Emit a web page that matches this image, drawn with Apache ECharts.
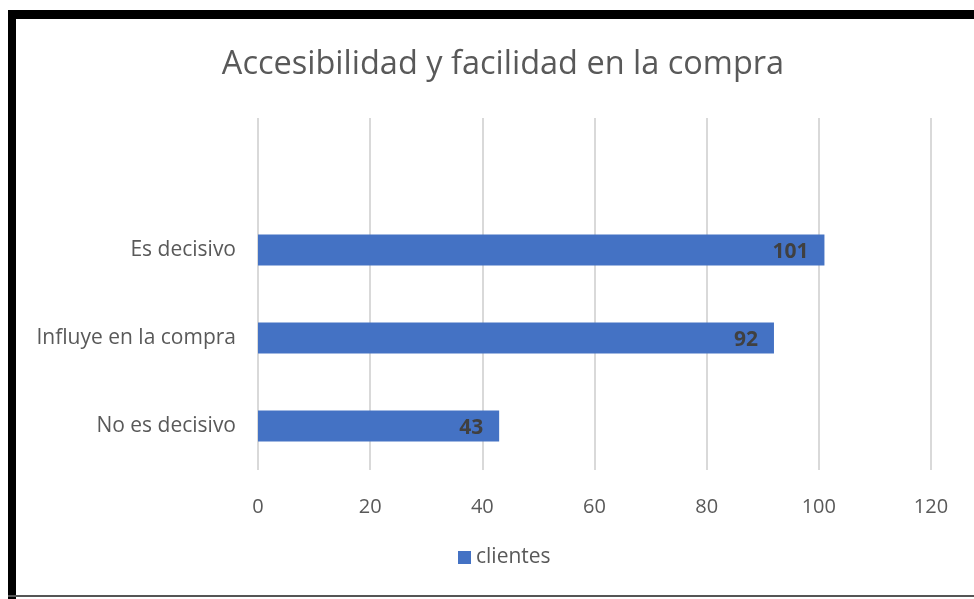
<!DOCTYPE html>
<html><head><meta charset="utf-8">
<script src="https://cdn.jsdelivr.net/npm/echarts@6/dist/echarts.min.js"></script>
<style>
html,body{margin:0;padding:0;background:#fff;}
#c{position:absolute;left:0;top:0;width:974px;height:599px;}
.b{position:absolute;}
</style></head><body>
<div id="c"></div>
<div class="b" style="left:8px;top:10px;width:966px;height:9px;background:#000;"></div>
<div class="b" style="left:8px;top:10px;width:8px;height:589px;background:#000;"></div>
<div class="b" style="left:8px;top:595px;width:966px;height:2px;background:#555;"></div>
<script>
const categories = ['No es decisivo', 'Influye en la compra', 'Es decisivo', ''];
const clientes = [43, 92, 101, null];
const xTicks = [0, 20, 40, 60, 80, 100, 120];

const chart = echarts.init(document.getElementById('c'));
chart.setOption({
  animation: false,
  title: {
    text: 'Accesibilidad y facilidad en la compra',
    left: 498, top: 43, textAlign: 'center',
    textStyle: {fontFamily: 'Open Sans', fontSize: 32.5, fontWeight: 'normal', color: '#595959'}
  },
  legend: {
    data: ['clientes'], bottom: 26, left: 453,
    icon: 'rect', itemWidth: 13, itemHeight: 13, itemGap: 5,
    textStyle: {fontFamily: 'Open Sans', fontSize: 21, color: '#595959'}
  },
  grid: {left: 258, right: 43, top: 118, bottom: 129},
  xAxis: {
    type: 'value', min: xTicks[0], max: xTicks[xTicks.length - 1], interval: 20,
    axisLine: {show: false}, axisTick: {show: false},
    splitLine: {lineStyle: {color: '#d9d9d9', width: 2}},
    axisLabel: {fontFamily: 'Open Sans', fontSize: 20, color: '#595959', margin: 27}
  },
  yAxis: {
    type: 'category', data: categories,
    axisLine: {show: false}, axisTick: {show: false},
    axisLabel: {fontFamily: 'Open Sans', fontSize: 21, color: '#595959', margin: 22}
  },
  series: [{
    name: 'clientes', type: 'bar', data: clientes, barWidth: 31,
    itemStyle: {color: '#4472c4'},
    label: {show: true, position: 'insideRight', distance: 16, offset: [0, 2],
      fontFamily: 'Open Sans', fontSize: 21, fontWeight: 'bold', color: '#404040'}
  }]
});
</script>
</body></html>
